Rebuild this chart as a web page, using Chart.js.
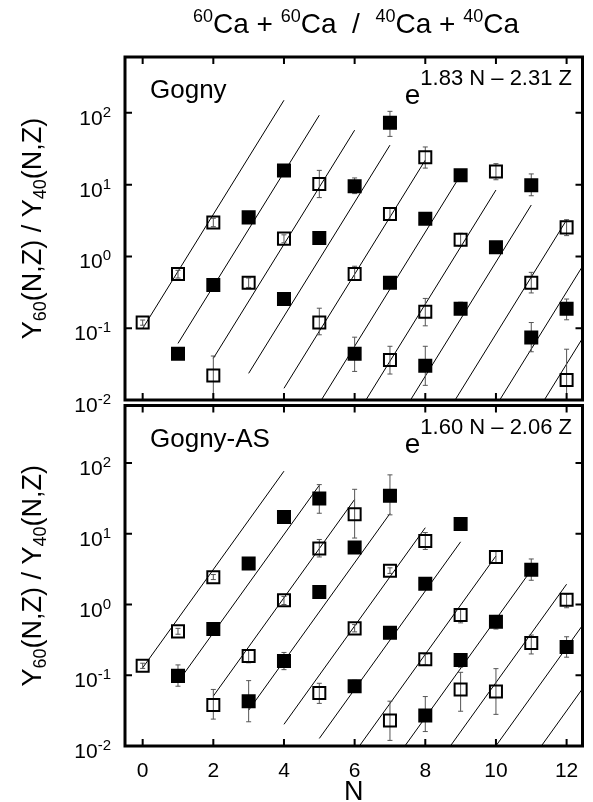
<!DOCTYPE html>
<html>
<head>
<meta charset="utf-8">
<script src="https://cdn.jsdelivr.net/npm/chart.js@4.4.0/dist/chart.umd.min.js"></script>
<style>
  body { margin: 0; background: #fff; }
  #wrap { position: relative; width: 593px; height: 802px; overflow: hidden; }
  canvas { position: absolute; left: 0; }
  #top { top: 0; }
  #bottom { top: 395px; }
</style>
</head>
<body>
<div id="wrap">
  <canvas id="top" width="593" height="420"></canvas>
  <canvas id="bottom" width="593" height="407"></canvas>
</div>
<script>
// isoscaling ratio Y60/Y40 vs neutron number N, odd Z = open, even Z = filled

// Gogny
const gognyOpenN  = [0, 1, 2, 2, 3, 4, 5, 5, 6, 7, 7, 8, 8, 9, 10, 11, 12, 12];
const gognyOpenR  = [0.12, 0.57, 2.98, 0.022, 0.43, 1.77, 10.2, 0.12, 0.57, 3.9, 0.036, 24, 0.17, 1.71, 15.3, 0.43, 2.54, 0.019];
const gognyOpenLo = [0.11, 0.50, 2.6, 0.008, 0.37, 1.55, 6.6, 0.081, 0.47, 3.2, 0.023, 17, 0.108, 1.4, 11.7, 0.31, 1.95, 0.005];
const gognyOpenHi = [0.13, 0.64, 3.4, 0.041, 0.50, 2.0, 15.8, 0.19, 0.73, 4.7, 0.056, 33.5, 0.26, 2.1, 19.6, 0.60, 3.25, 0.051];

const gognyFillN  = [1, 2, 3, 4, 4, 5, 6, 7, 6, 7, 8, 9, 8, 9, 10, 11, 11, 12];
const gognyFillR  = [0.044, 0.40, 3.5, 15.7, 0.255, 1.8, 9.5, 72.7, 0.044, 0.43, 3.36, 13.5, 0.030, 0.187, 1.34, 9.8, 0.074, 0.187];
const gognyFillLo = [0.041, 0.37, 3.3, 14.5, 0.24, 1.7, 7.5, 47, 0.025, 0.38, 3.1, 12.5, 0.016, 0.155, 1.25, 7.0, 0.047, 0.131];
const gognyFillHi = [0.047, 0.43, 3.7, 17, 0.27, 1.9, 12.4, 105, 0.075, 0.49, 3.6, 14.5, 0.056, 0.23, 1.45, 14.1, 0.12, 0.255];

// Gogny-AS
const asOpenN  = [0, 1, 2, 2, 3, 4, 5, 5, 6, 6, 7, 7, 8, 8, 9, 9, 10, 10, 11, 12];
const asOpenR  = [0.136, 0.417, 2.43, 0.038, 0.187, 1.15, 6.2, 0.056, 18.9, 0.46, 3.0, 0.023, 7.9, 0.168, 0.71, 0.063, 4.7, 0.059, 0.286, 1.17];
const asOpenLo = [0.125, 0.38, 2.25, 0.024, 0.15, 1.0, 4.7, 0.040, 8.7, 0.41, 2.75, 0.012, 6.0, 0.14, 0.55, 0.031, 3.8, 0.028, 0.20, 0.90];
const asOpenHi = [0.148, 0.46, 2.65, 0.063, 0.23, 1.3, 8.3, 0.077, 42.5, 0.52, 3.3, 0.043, 10.4, 0.20, 0.85, 0.11, 5.6, 0.124, 0.37, 1.4];

const asFillN  = [1, 2, 3, 3, 4, 4, 5, 5, 6, 6, 7, 7, 8, 8, 9, 9, 10, 11, 12];
const asFillR  = [0.098, 0.45, 3.8, 0.043, 17.2, 0.159, 31.6, 1.5, 6.4, 0.07, 34.4, 0.40, 1.96, 0.027, 13.7, 0.164, 0.57, 3.1, 0.25];
const asFillLo = [0.07, 0.42, 3.6, 0.022, 16, 0.12, 19.5, 1.4, 6.0, 0.058, 18.5, 0.37, 1.8, 0.016, 11.4, 0.13, 0.45, 2.2, 0.18];
const asFillHi = [0.14, 0.48, 4.0, 0.084, 18.5, 0.21, 49.5, 1.6, 6.8, 0.085, 68, 0.43, 2.1, 0.05, 16.5, 0.20, 0.70, 4.4, 0.35];

// fit parameters, R = exp(a N - b Z), one line per Z
const gognyA = 1.83, gognyB = 2.31;
const asA = 1.60, asB = 2.06;
const fitZ = [1, 2, 3, 4, 5, 6, 7, 8, 9, 10, 11];

const xTicks = [0, 2, 4, 6, 8, 10, 12];
const yTicks = [0.01, 0.1, 1, 10, 100];
const yTickExp = ['-2', '-1', '0', '1', '2'];

const FONT = '"Liberation Sans", Arial, Helvetica, sans-serif';

function rich(ctx, parts, x, y, align) {
  let w = 0;
  for (const p of parts) {
    ctx.font = p.size + 'px ' + FONT;
    p.w = ctx.measureText(p.t).width;
    w += p.w;
  }
  let cx = align === 'right' ? x - w : align === 'center' ? x - w / 2 : x;
  ctx.textAlign = 'left';
  ctx.textBaseline = 'alphabetic';
  for (const p of parts) {
    ctx.font = p.size + 'px ' + FONT;
    ctx.fillText(p.t, cx, y + (p.dy || 0));
    cx += p.w;
  }
}

function fitLines(a, b) {
  return fitZ.map(z => ({
    data: [z - 1, z + 3].map(n => ({ x: n, y: Math.exp(a * n - b * z) })),
    showLine: true,
    pointRadius: 0,
    borderColor: '#000',
    borderWidth: 1,
    order: 3
  }));
}

function errorBars(ns, lo, hi) {
  const pts = [];
  ns.forEach((n, i) => {
    pts.push({ x: n, y: lo[i] }, { x: n, y: hi[i] }, { x: n, y: null });
  });
  return {
    data: pts,
    showLine: true,
    spanGaps: false,
    borderColor: '#555',
    borderWidth: 1,
    pointStyle: 'line',
    pointRadius: 2.5,
    pointBorderColor: '#555',
    pointBorderWidth: 1,
    order: 2
  };
}

function markers(ns, rs, filled) {
  return {
    data: ns.map((n, i) => ({ x: n, y: rs[i] })),
    pointStyle: 'rect',
    pointRadius: 8.5,
    pointBackgroundColor: filled ? '#000' : 'rgba(0,0,0,0)',
    pointBorderColor: '#000',
    pointBorderWidth: 2,
    order: filled ? 0 : 1
  };
}

const framePlugin = {
  id: 'frame',
  afterDatasetsDraw(chart, args, opts) {
    const { ctx, chartArea: a, scales: { x, y } } = chart;
    ctx.save();
    ctx.strokeStyle = '#000';
    ctx.fillStyle = '#000';

    ctx.lineWidth = 2;
    ctx.beginPath();
    xTicks.forEach(n => {
      const px = x.getPixelForValue(n);
      ctx.moveTo(px, a.bottom); ctx.lineTo(px, a.bottom - 7);
      ctx.moveTo(px, a.top); ctx.lineTo(px, a.top + 7);
    });
    yTicks.forEach(v => {
      const py = y.getPixelForValue(v);
      ctx.moveTo(a.left, py); ctx.lineTo(a.left + 7, py);
      ctx.moveTo(a.right, py); ctx.lineTo(a.right - 7, py);
    });
    ctx.stroke();
    ctx.lineWidth = 3;
    ctx.strokeRect(a.left, a.top, a.right - a.left, a.bottom - a.top);

    // decade labels
    yTicks.forEach((v, i) => {
      const py = y.getPixelForValue(v);
      rich(ctx, [{ t: '10', size: 21 }, { t: yTickExp[i], size: 15, dy: -8 }], 111, py + 12, 'right');
    });

    // y title
    ctx.save();
    ctx.translate(41, (a.top + a.bottom) / 2);
    ctx.rotate(-Math.PI / 2);
    rich(ctx, [
      { t: 'Y', size: 27 }, { t: '60', size: 18, dy: 5 }, { t: '(N,Z) / Y', size: 27 },
      { t: '40', size: 18, dy: 5 }, { t: '(N,Z)', size: 27 }
    ], 0, 0, 'center');
    ctx.restore();

    // panel name and fit formula
    rich(ctx, [{ t: opts.panel, size: 26 }], 150, a.top + 41, 'left');
    rich(ctx, [
      { t: 'e', size: 28 },
      { t: opts.a.toFixed(2) + ' N \u2013 ' + opts.b.toFixed(2) + ' Z', size: 22, dy: -19 }
    ], 572, a.top + 47, 'right');

    if (opts.title) {
      rich(ctx, [
        { t: '60', size: 18, dy: -11 }, { t: 'Ca + ', size: 28 },
        { t: '60', size: 18, dy: -11 }, { t: 'Ca  /  ', size: 28 },
        { t: '40', size: 18, dy: -11 }, { t: 'Ca + ', size: 28 },
        { t: '40', size: 18, dy: -11 }, { t: 'Ca', size: 28 }
      ], 356, 33, 'center');
    }

    if (opts.xLabels) {
      ctx.font = '21px ' + FONT;
      ctx.textAlign = 'center';
      ctx.textBaseline = 'alphabetic';
      xTicks.forEach(n => ctx.fillText(String(n), x.getPixelForValue(n), a.bottom + 31));
      ctx.font = '27px ' + FONT;
      ctx.fillText('N', (a.left + a.right) / 2, a.bottom + 54);
    }
    ctx.restore();
  }
};

function makeChart(id, datasets, ymax, padding, frame) {
  return new Chart(document.getElementById(id), {
    type: 'scatter',
    data: { datasets },
    options: {
      responsive: false,
      animation: false,
      events: [],
      layout: { padding },
      plugins: { legend: { display: false }, tooltip: { enabled: false }, frame },
      scales: {
        x: { type: 'linear', min: -0.5, max: 12.45, display: false },
        y: { type: 'logarithmic', min: 0.01, max: ymax, display: false }
      }
    },
    plugins: [framePlugin]
  });
}

makeChart('top', [
  markers(gognyFillN, gognyFillR, true),
  markers(gognyOpenN, gognyOpenR, false),
  errorBars(gognyFillN, gognyFillLo, gognyFillHi),
  errorBars(gognyOpenN, gognyOpenLo, gognyOpenHi),
  ...fitLines(gognyA, gognyB)
], 600, { left: 125, right: 8, top: 57, bottom: 20 },
  { panel: 'Gogny', a: gognyA, b: gognyB, title: true, xLabels: false });

makeChart('bottom', [
  markers(asFillN, asFillR, true),
  markers(asOpenN, asOpenR, false),
  errorBars(asFillN, asFillLo, asFillHi),
  errorBars(asOpenN, asOpenLo, asOpenHi),
  ...fitLines(asA, asB)
], 650, { left: 125, right: 8, top: 5, bottom: 56 },
  { panel: 'Gogny-AS', a: asA, b: asB, title: false, xLabels: true });
</script>
</body>
</html>
